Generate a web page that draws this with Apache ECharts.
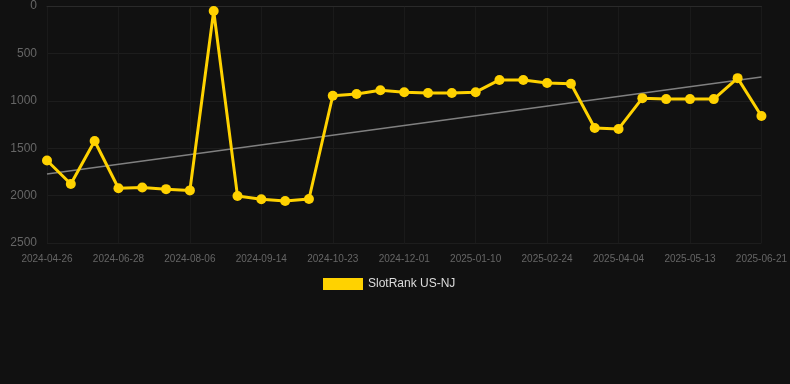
<!DOCTYPE html>
<html><head><meta charset="utf-8">
<script src="https://cdn.jsdelivr.net/npm/echarts@6/dist/echarts.min.js"></script>
<style>html,body{margin:0;padding:0;background:#111111;}#c{width:790px;height:384px;}</style>
</head><body><div id="c"></div>
<script>
const categories = ['2024-04-26','2024-05-17','2024-06-07','2024-06-28','2024-07-11','2024-07-24','2024-08-06','2024-08-19','2024-09-01','2024-09-14','2024-09-27','2024-10-10','2024-10-23','2024-11-05','2024-11-18','2024-12-01','2024-12-14','2024-12-27','2025-01-10','2025-01-25','2025-02-09','2025-02-24','2025-03-09','2025-03-22','2025-04-04','2025-04-17','2025-04-30','2025-05-13','2025-05-26','2025-06-08','2025-06-21'];
const rankValues = [1630,1878,1424,1922,1914,1932,1945,53,2005,2038,2057,2036,947,928,888,909,918,918,909,780,780,812,820,1287,1297,972,982,982,982,761,1160];
const trendStart = 1772;
const trendEnd = 749;
const trendValues = categories.map((c,i)=> i===0 ? trendStart : (i===categories.length-1 ? trendEnd : null));
const yTicks = {min:0, max:2500, interval:500};

const chart = echarts.init(document.getElementById('c'));
chart.setOption({
  backgroundColor:'#111111',
  animation:false,
  grid:{left:47, right:28, top:6, bottom:141},
  legend:{data:['SlotRank US-NJ'], top:278, left:323, itemWidth:40, itemHeight:12, itemGap:10,
    textStyle:{color:'#dddddd', fontSize:12, fontFamily:'Arial, Liberation Sans, sans-serif'},
    icon:'rect', padding:0},
  xAxis:{type:'category', data:categories, boundaryGap:false,
    axisLine:{lineStyle:{color:'#2a2a2a'}}, axisTick:{show:false},
    axisLabel:{interval:2, color:'#666666', fontSize:10, margin:11, fontFamily:'Arial, Liberation Sans, sans-serif'},
    splitLine:{show:true, interval:2, lineStyle:{color:'#1a1a1a'}}},
  yAxis:{type:'value', inverse:true, min:yTicks.min, max:yTicks.max, interval:yTicks.interval,
    axisLine:{show:false}, axisTick:{show:false},
    axisLabel:{color:'#666666', fontSize:12, margin:10, fontFamily:'Arial, Liberation Sans, sans-serif',
      formatter:function(v){return String(v);}},
    splitLine:{lineStyle:{color:'#1d1d1d'}}},
  series:[
    {name:'trend', type:'line', data:trendValues, connectNulls:true, symbol:'none',
      lineStyle:{color:'#808080', width:1.5}, z:1, silent:true},
    {name:'SlotRank US-NJ', type:'line', data:rankValues, symbol:'circle', symbolSize:10,
      itemStyle:{color:'#ffd200'}, lineStyle:{color:'#ffd200', width:3}, z:3}
  ]
});
</script></body></html>
